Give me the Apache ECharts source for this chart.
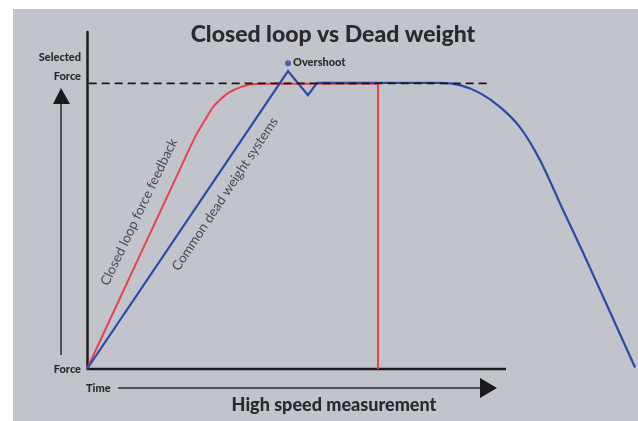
<!DOCTYPE html>
<html>
<head>
<meta charset="utf-8">
<script src="https://cdn.jsdelivr.net/npm/echarts@6/dist/echarts.min.js"></script>
<style>
html,body{margin:0;padding:0;background:#fff;}
#chart{width:638px;height:421px;}
</style>
</head>
<body>
<div id="chart"></div>
<script>
// Data (time in arbitrary units, force in % of selected force)
const selectedForce = 100;
const timeAxisEnd = 100;
// closed loop: ramp + smooth approach, then hold and instant release
const redRampTime  = [0, 22.2, 25.78, 28.16, 30.07, 32.22, 34.13, 36.52, 38.9, 41.77, 69.45];
const redRampForce = [0, 70.0, 81.2, 87.2, 91.7, 94.9, 97.0, 98.6, 99.6, 99.85, 99.85];
const redDropTime  = [69.45, 69.45];
const redDropForce = [99.85, 0];
// dead weight: ramp with overshoot, then hold and slow decay
const blueRampTime  = [0, 47.97, 52.74, 54.89];
const blueRampForce = [0, 104.3, 95.9, 100.2];
const blueHoldTime  = [54.89, 84.25, 89.0, 93.8, 98.6, 103.3, 108.1, 113.6, 118.4, 123.2, 130.8];
const blueHoldForce = [100.2, 100.2, 99.4, 96.6, 91.7, 84.7, 73.2, 55.7, 40.7, 25.2, 0.5];
const overshootTime = 47.97, overshootForce = 107.1;
const dashTime = [0.4, 96.2];
const labels = {
  title: 'Closed loop vs Dead weight',
  xName: 'High speed measurement',
  yTop: ['Selected', 'Force'],
  yBottom: 'Force',
  xStart: 'Time',
  red: 'Closed loop force feedback',
  blue: 'Common dead weight systems',
  overshoot: 'Overshoot'
};

const zip = (a, b) => a.map((v, i) => [v, b[i]]);
const FONT = 'Lato';
const RED = '#e8404f', BLUE = '#2b4aa6';
const chart = echarts.init(document.getElementById('chart'), null, {renderer: 'canvas'});

chart.setOption({
  backgroundColor: '#ffffff',
  animation: false,
  grid: {left: 87, right: 2.1, top: 32, bottom: 52},
  xAxis: {
    type: 'value', min: 0, max: 131,
    axisLine: {show: false},
    axisTick: {show: false}, axisLabel: {show: false}, splitLine: {show: false}
  },
  yAxis: {
    type: 'value', min: 0, max: 118,
    axisLine: {show: true, lineStyle: {color: '#1c1c1c', width: 2.5}},
    axisTick: {show: false}, axisLabel: {show: false}, splitLine: {show: false}
  },
  graphic: [
    {type: 'rect', z: -10, silent: true, shape: {x: 13, y: 9, width: 625, height: 412}, style: {fill: '#c1c4cb'}},
    {type: 'text', x: 333, y: 35, style: {text: labels.title, align: 'center', verticalAlign: 'middle', font: '900 23px ' + FONT, fill: '#2a2a2e'}},
    // left force arrow
    {type: 'line', shape: {x1: 61, y1: 100, x2: 61, y2: 355}, style: {stroke: '#2a2a2a', lineWidth: 1.5}},
    {type: 'polygon', shape: {points: [[61, 88], [53, 104], [70, 104]]}, style: {fill: '#1a1a1a'}},
    // time arrow
    {type: 'line', shape: {x1: 118, y1: 388, x2: 484, y2: 388}, style: {stroke: '#2a2a2a', lineWidth: 1.5}},
    {type: 'polygon', shape: {points: [[480, 378], [497, 388], [480, 398]]}, style: {fill: '#1a1a1a'}},
    {type: 'text', x: 81, y: 57, style: {text: labels.yTop[0], align: 'right', verticalAlign: 'middle', font: '900 11px ' + FONT, fill: '#2a2a2a'}},
    {type: 'text', x: 81, y: 76, style: {text: labels.yTop[1], align: 'right', verticalAlign: 'middle', font: '900 11px ' + FONT, fill: '#2a2a2a'}},
    {type: 'text', x: 81, y: 369, style: {text: labels.yBottom, align: 'right', verticalAlign: 'middle', font: '900 11px ' + FONT, fill: '#2a2a2a'}},
    {type: 'text', x: 86, y: 388, style: {text: labels.xStart, align: 'left', verticalAlign: 'middle', font: '900 11px ' + FONT, fill: '#2a2a2a'}},
    {type: 'text', x: 334, y: 405, style: {text: labels.xName, align: 'center', verticalAlign: 'middle', font: '900 18px ' + FONT, fill: '#2a2a2e'}},
    {type: 'text', x: 293, y: 62, style: {text: labels.overshoot, align: 'left', verticalAlign: 'middle', font: '900 11px ' + FONT, fill: '#2a2a2a'}},
    {type: 'text', x: 139, y: 212, rotation: 64.5 * Math.PI / 180, style: {text: labels.red, align: 'center', verticalAlign: 'middle', font: '13.5px ' + FONT, fill: '#4a4a4f'}},
    {type: 'text', x: 225, y: 194, rotation: 56.5 * Math.PI / 180, style: {text: labels.blue, align: 'center', verticalAlign: 'middle', font: '13.5px ' + FONT, fill: '#4a4a4f'}}
  ],
  series: [
    {
      name: 'Time axis', type: 'line', symbol: 'none', clip: false, z: 2,
      data: [[0, 0], [timeAxisEnd, 0]],
      lineStyle: {color: '#1c1c1c', width: 2.5}
    },
    {
      name: labels.red, type: 'line', symbol: 'none', clip: false, z: 4,
      smooth: 0.3,
      data: zip(redRampTime, redRampForce),
      lineStyle: {color: RED, width: 2}
    },
    {
      name: labels.red + ' release', type: 'line', symbol: 'none', clip: false, z: 4,
      data: zip(redDropTime, redDropForce),
      lineStyle: {color: RED, width: 2}
    },
    {
      name: labels.blue, type: 'line', symbol: 'none', clip: false, z: 5,
      data: zip(blueRampTime, blueRampForce),
      lineStyle: {color: BLUE, width: 2.2, join: 'miter'}
    },
    {
      name: labels.blue + ' hold', type: 'line', symbol: 'none', clip: false, z: 5,
      smooth: 0.3,
      data: zip(blueHoldTime, blueHoldForce),
      lineStyle: {color: BLUE, width: 2.2}
    },
    {
      name: 'Selected force', type: 'line', symbol: 'none', clip: false, z: 6,
      data: zip(dashTime, dashTime.map(() => selectedForce)),
      lineStyle: {color: '#1a1a1a', width: 1.6, type: [8, 5]}
    },
    {
      name: labels.overshoot, type: 'scatter', symbol: 'circle', symbolSize: 6, clip: false, z: 7,
      data: [[overshootTime, overshootForce]],
      itemStyle: {color: BLUE}
    }
  ]
});
</script>
</body>
</html>
